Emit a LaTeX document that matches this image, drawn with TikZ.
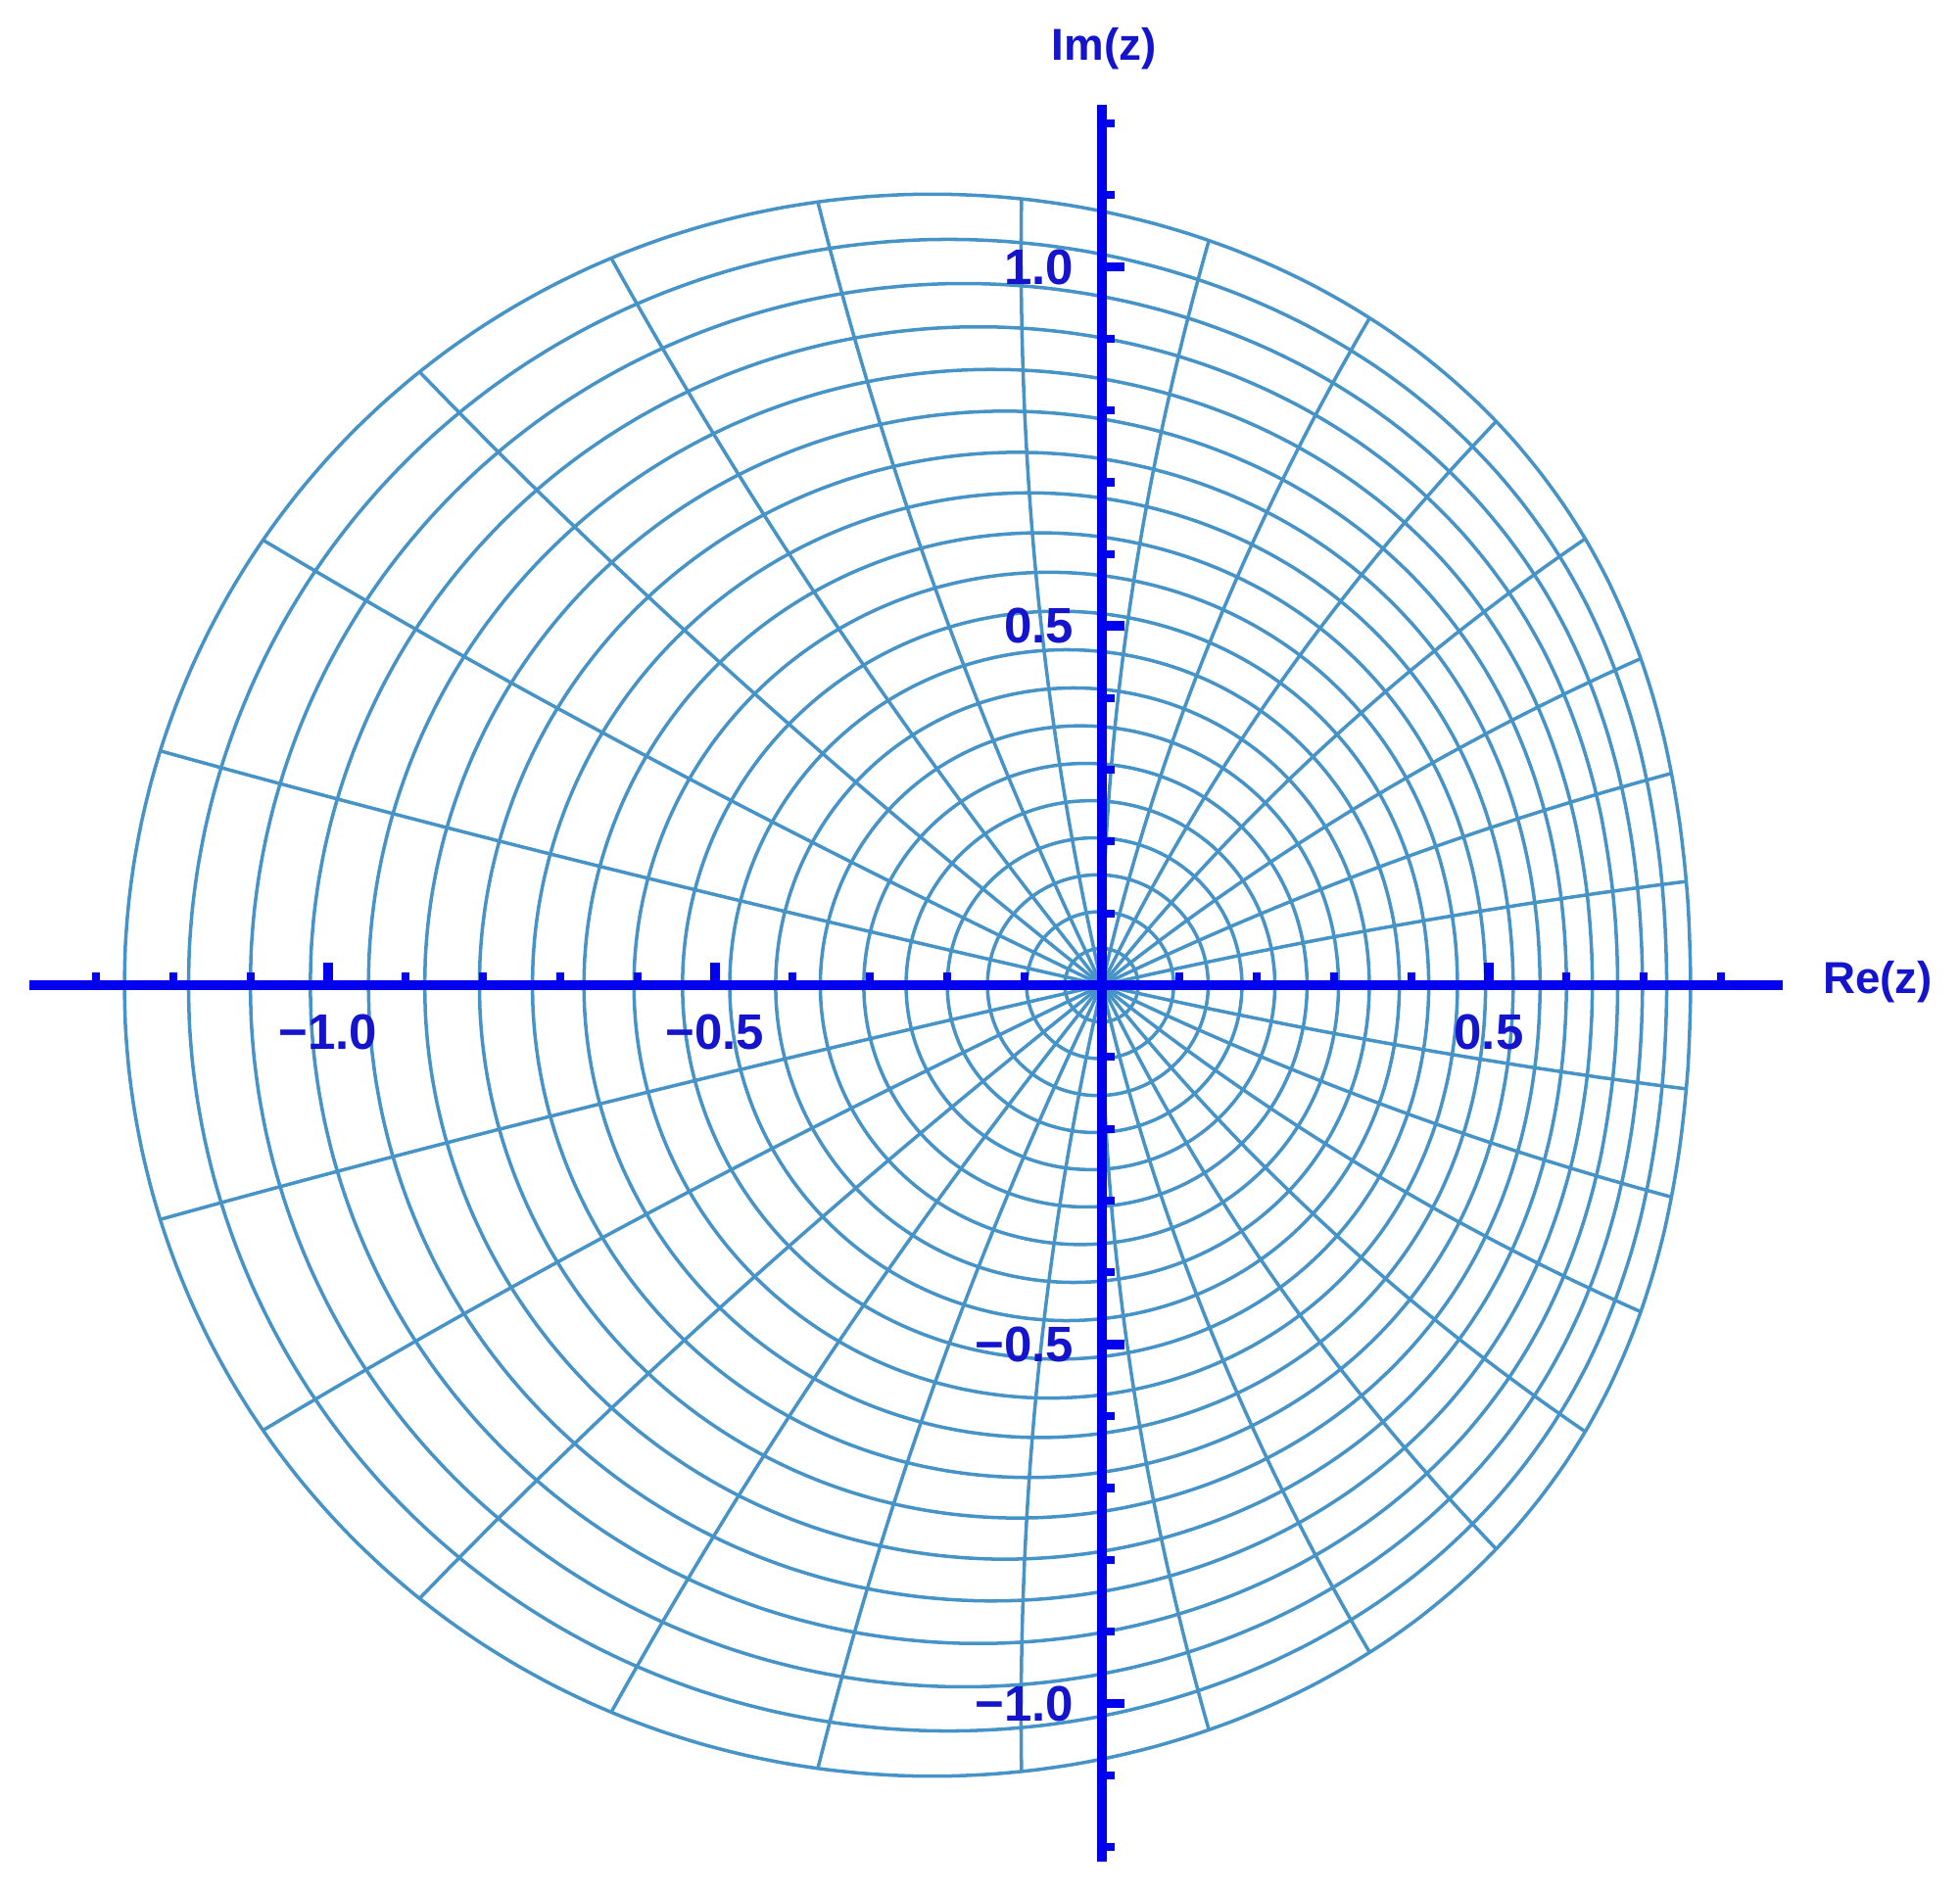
\documentclass[tikz,border=0pt]{standalone}
\usepackage{fontspec}
\setmainfont{Liberation Sans}
\definecolor{gridblue}{RGB}{70,148,199}
\definecolor{axisblue}{RGB}{0,0,238}
\definecolor{labelblue}{RGB}{20,20,205}
\def\gridS{7.502}
\def\gridU{0.2483}
\tikzset{declare function={
  cofs(\r)=-\gridS*\gridU*\r*\r/(1-\gridU*\gridU*\r*\r);
  crad(\r)=\gridS*\r/(1-\gridU*\gridU*\r*\r);
  bulge(\r,\p)=1+0.00984*\r*\r*sin(\p)*sin(\p)*exp(3*cos(\p));
  psim(\r,\a)=atan2(sin(\a),cos(\a)+\gridU*\r)-atan2(\gridU*\r*sin(\a),1+\gridU*\r*cos(\a));
  psib(\r,\a)=\a+(0.79+0.25*cos(\a))*(psim(\r,\a)-\a);
  gx(\r,\p)=cofs(\r)+crad(\r)*bulge(\r,\p)*cos(\p);
  gy(\r,\p)=crad(\r)*bulge(\r,\p)*sin(\p);
}}
\begin{document}
\begin{tikzpicture}[gridline/.style={gridblue,line width=1pt},
  axisline/.style={axisblue,line width=2.85pt},
  ticksmall/.style={axisblue,line width=2.3pt},
  tickbig/.style={axisblue,line width=2.8pt},
  ticklabel/.style={labelblue,inner sep=0pt,font=\bfseries\fontsize{14.5}{16}\selectfont},
  axislabel/.style={labelblue,inner sep=0pt,font=\bfseries\fontsize{13}{15}\selectfont}]
\useasboundingbox (-11.25,-9.25) rectangle (8.76,10.06);
\foreach \k in {1,...,20}{
  \pgfmathsetmacro{\rad}{\k/20}
  \draw[gridline] plot[domain=-180:180,samples=121,variable=\p,smooth]
    ({gx(\rad,\p)},{gy(\rad,\p)}) -- cycle;
}
\foreach \j in {-13,...,-1,1,2,...,13}{
  \pgfmathsetmacro{\a}{\j*360/28}
  \draw[gridline] plot[domain=0:1,samples=41,variable=\t,smooth]
    ({gx(\t,psib(\t,\a))},{gy(\t,psib(\t,\a))});
}
\coordinate (xl) at (-10.95,0);
\coordinate (xr) at (6.95,0);
\coordinate (yb) at (0,-8.95);
\coordinate (yt) at (0,8.99);
\draw[axisline] (xl) -- (xr);
\draw[axisline] (yb) -- (yt);
\foreach \k in {-13,...,-1,1,2,...,8}
  \draw[ticksmall] (\k*0.79,0) -- (\k*0.79,0.13);
\foreach \k in {-10,-5,5}
  \draw[tickbig] (\k*0.79,0) -- (\k*0.79,0.23);
\foreach \k in {-12,...,-1,1,2,...,12}
  \draw[ticksmall] (0,\k*0.7335) -- (0.13,\k*0.7335);
\foreach \k in {-10,-5,5,10}
  \draw[tickbig] (0,\k*0.7335) -- (0.23,\k*0.7335);
\node[ticklabel] (xm10) at (-7.90,-0.48) {−1.0};
\node[ticklabel] (xm05) at (-3.95,-0.48) {−0.5};
\node[ticklabel] (xp05) at (3.95,-0.48) {0.5};
\node[ticklabel,anchor=east] (yp10) at (-0.28,7.335) {1.0};
\node[ticklabel,anchor=east] (yp05) at (-0.28,3.6675) {0.5};
\node[ticklabel,anchor=east] (ym05) at (-0.28,-3.6675) {−0.5};
\node[ticklabel,anchor=east] (ym10) at (-0.28,-7.335) {−1.0};
\node[axislabel] (imlab) at (0.02,9.56) {Im(z)};
\node[axislabel] (relab) at (7.92,0.03) {Re(z)};
\end{tikzpicture}
\end{document}
